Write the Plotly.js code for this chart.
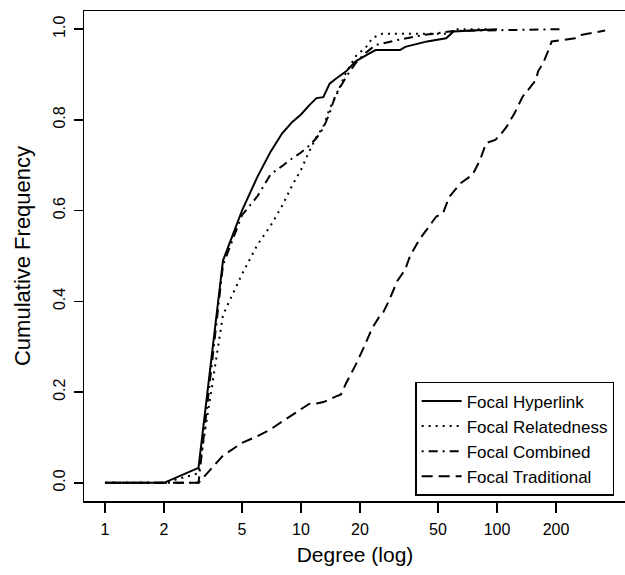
<!DOCTYPE html>
<html>
<head>
<meta charset="utf-8">
<script src="https://cdn.plot.ly/plotly-3.0.1.min.js"></script>
<style>
html, body { margin: 0; padding: 0; overflow: hidden; background: #fff; }
#chart { width: 630px; height: 575px; }
</style>
</head>
<body>
<div id="chart"></div>
<script>
// Focal Hyperlink
const hyperX = [1, 2, 3, 4, 5, 6, 7, 8, 9, 10, 11, 12, 13, 14, 15, 17, 19, 20, 22, 24, 32, 34, 44, 55, 60, 100];
const hyperY = [0, 0, 0.033, 0.49, 0.60, 0.675, 0.73, 0.77, 0.795, 0.812, 0.832, 0.848, 0.85, 0.88, 0.89, 0.907, 0.929, 0.935, 0.945, 0.954, 0.954, 0.961, 0.973, 0.98, 0.995, 1.0];

// Focal Relatedness
const relX = [1, 2, 3, 4, 5, 6, 7, 8, 9, 10, 11, 12, 13, 14, 15, 16, 17, 19, 22, 23, 26, 57, 62, 90];
const relY = [0, 0, 0.021, 0.37, 0.46, 0.525, 0.567, 0.61, 0.655, 0.69, 0.73, 0.763, 0.785, 0.825, 0.85, 0.88, 0.905, 0.94, 0.965, 0.98, 0.99, 0.99, 1.0, 1.0];

// Focal Combined
const combX = [1, 2, 3, 4, 5, 6, 7, 8, 9, 10, 11, 12, 13, 14, 15, 16, 17, 19, 21, 24, 31, 42, 60, 210];
const combY = [0, 0, 0, 0.48, 0.59, 0.632, 0.68, 0.698, 0.715, 0.728, 0.743, 0.76, 0.782, 0.815, 0.855, 0.875, 0.895, 0.925, 0.945, 0.965, 0.976, 0.987, 0.996, 1.0];

// Focal Traditional
const tradX = [1, 2, 3, 4, 5, 6, 7, 8, 9, 10, 11, 12, 13, 15, 16, 17, 19, 21, 23, 25, 26, 28, 31, 34, 36, 40, 45, 49, 53, 57, 65, 75, 82, 88, 98, 104, 112, 123, 135, 147, 158, 162, 172, 183, 190, 218, 250, 266, 356];
const tradY = [0, 0, 0, 0.06, 0.088, 0.103, 0.118, 0.135, 0.15, 0.163, 0.174, 0.175, 0.178, 0.19, 0.195, 0.22, 0.26, 0.30, 0.34, 0.365, 0.372, 0.40, 0.445, 0.47, 0.50, 0.535, 0.565, 0.587, 0.594, 0.63, 0.66, 0.679, 0.712, 0.749, 0.756, 0.767, 0.785, 0.815, 0.851, 0.87, 0.888, 0.907, 0.925, 0.954, 0.973, 0.976, 0.98, 0.987, 0.997];

const seriesNames = ['Focal Hyperlink', 'Focal Relatedness', 'Focal Combined', 'Focal Traditional'];

const xTickVals = [1, 2, 5, 10, 20, 50, 100, 200];
const xTickText = ['1', '2', '5', '10', '20', '50', '100', '200'];
const yTickVals = [0, 0.2, 0.4, 0.6, 0.8, 1.0];
const yTickText = ['0.0', '0.2', '0.4', '0.6', '0.8', '1.0'];

const FONT = 'Liberation Sans, Arial, sans-serif';

const traces = [
  {x: hyperX, y: hyperY, name: seriesNames[0], mode: 'lines', line: {color: '#000', width: 2, dash: 'solid'}},
  {x: relX, y: relY, name: seriesNames[1], mode: 'lines', line: {color: '#000', width: 2, dash: '2px,5px'}},
  {x: combX, y: combY, name: seriesNames[2], mode: 'lines', line: {color: '#000', width: 2, dash: '2px,5px,9px,5px'}},
  {x: tradX, y: tradY, name: seriesNames[3], mode: 'lines', line: {color: '#000', width: 2, dash: '11px,6px'}}
];

const layout = {
  width: 630,
  height: 575,
  margin: {l: 84, r: 4, t: 11, b: 74},
  paper_bgcolor: '#fff',
  plot_bgcolor: '#fff',
  font: {family: FONT, size: 16, color: '#000'},
  showlegend: true,
  legend: {
    x: 0.611, y: 0.243, xanchor: 'left', yanchor: 'top',
    bordercolor: '#000', borderwidth: 1.5, bgcolor: '#fff',
    font: {family: FONT, size: 17, color: '#000'},
    itemwidth: 40,
    tracegroupgap: 0
  },
  xaxis: {
    type: 'log',
    range: [-0.107, 2.658],
    tickvals: xTickVals,
    ticktext: xTickText,
    ticks: 'outside', ticklen: 10, tickwidth: 1.5, tickcolor: '#000',
    ticklabelstandoff: 3,
    showline: true, linecolor: '#000', linewidth: 1.5, mirror: true,
    showgrid: false, zeroline: false,
    tickfont: {family: FONT, size: 16, color: '#000'},
    title: {text: 'Degree (log)', font: {family: FONT, size: 21, color: '#000'}, standoff: 10}
  },
  yaxis: {
    range: [-0.04, 1.04],
    tickvals: yTickVals,
    ticktext: yTickText,
    tickangle: -90,
    ticks: 'outside', ticklen: 9, tickwidth: 1.5, tickcolor: '#000',
    ticklabelstandoff: 2,
    showline: true, linecolor: '#000', linewidth: 1.5, mirror: true,
    showgrid: false, zeroline: false,
    tickfont: {family: FONT, size: 16, color: '#000'},
    title: {text: 'Cumulative Frequency', font: {family: FONT, size: 22, color: '#000'}, standoff: 14}
  }
};

Plotly.newPlot('chart', traces, layout, {displayModeBar: false, staticPlot: true});
</script>
</body>
</html>
